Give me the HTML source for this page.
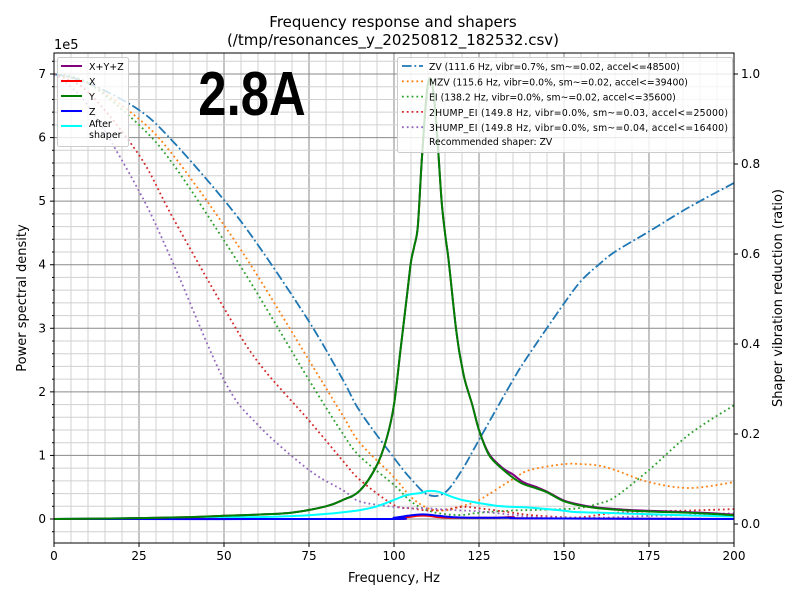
<!DOCTYPE html>
<html><head><meta charset="utf-8"><style>
body{margin:0;background:#fff}
svg{display:block;font-family:"DejaVu Sans","Liberation Sans",sans-serif}
</style></head><body>
<svg id="chart" width="800" height="600" viewBox="0 0 800 600" xmlns="http://www.w3.org/2000/svg">
<rect width="800" height="600" fill="#fff"/>
<g id="grid"></g>
<g id="series"></g>
<rect x="54" y="53" width="680" height="490" fill="none" stroke="#000" stroke-width="1"/>
<g id="axes" font-size="12"></g>
<text x="393" y="27" text-anchor="middle" font-size="15">Frequency response and shapers</text>
<text x="393" y="45" text-anchor="middle" font-size="15">(/tmp/resonances_y_20250812_182532.csv)</text>
<text x="394" y="582" text-anchor="middle" font-size="13">Frequency, Hz</text>
<text transform="translate(26,298) rotate(-90)" text-anchor="middle" font-size="13">Power spectral density</text>
<text transform="translate(782,298) rotate(-90)" text-anchor="middle" font-size="13">Shaper vibration reduction (ratio)</text>
<text x="54" y="49" font-size="13">1e5</text>
<text x="252" y="115" text-anchor="middle" font-size="62" font-weight="bold" font-family="'Liberation Sans Narrow','Liberation Sans',sans-serif" transform="translate(252,0) scale(0.82,1) translate(-252,0)">2.8A</text>
<g id="legend-left"></g>
<g id="legend-right"></g>
</svg>
<script>
// PSD data (units of 1e5)
const psdFreqs = [0,20,40,50,60,70,80,85,90,95,98,100,102,104,105,106,107,108,109,110,111,112,113,114,115,116,117,118,119,120,121,123,125,128,132,135,138,142,145,150,155,160,170,180,190,200];
const psdY =     [0,0.01,0.03,0.05,0.07,0.1,0.2,0.3,0.45,0.85,1.3,1.8,2.7,3.6,4.05,4.3,4.6,5.5,6.3,6.85,6.9,6.5,5.8,5.0,4.5,4.1,3.6,3.1,2.7,2.4,2.15,1.8,1.4,1.0,0.78,0.65,0.55,0.48,0.42,0.28,0.21,0.17,0.13,0.11,0.09,0.06];
const psdSum =   [0,0.01,0.03,0.05,0.07,0.1,0.2,0.3,0.45,0.85,1.3,1.8,2.7,3.6,4.05,4.3,4.6,5.5,6.3,6.85,6.9,6.5,5.8,5.0,4.5,4.1,3.6,3.1,2.7,2.4,2.15,1.8,1.4,1.02,0.8,0.7,0.58,0.5,0.43,0.29,0.22,0.18,0.14,0.12,0.1,0.07];
const shFreqs = [0,20,40,60,72,80,84,90,95,100,104,108,110,113,117,120,123,130,135,140,150,153,160,172,185,200];
const shAfter = [0,0.01,0.02,0.03,0.05,0.08,0.1,0.14,0.2,0.3,0.38,0.41,0.44,0.43,0.35,0.3,0.27,0.21,0.19,0.18,0.13,0.11,0.1,0.08,0.06,0.04];
const xFreqs = [0,95,100,104,107,110,113,117,122,130,135,140,200];
const xVals =  [0,0,0.01,0.03,0.05,0.05,0.03,0.02,0.02,0.02,0.03,0.01,0];
const zVals =  [0,0,0.02,0.05,0.07,0.07,0.05,0.03,0.02,0.02,0.02,0.01,0];
// Shaper responses (ratio)
const ratioFreqs = [0,10,25,35,50,60,75,85,90,100,105,110,115,120,125,135,140,150,155,160,165,175,187,200];
const zv =     [1.0,0.98,0.92,0.85,0.72,0.62,0.45,0.32,0.25,0.147,0.1,0.065,0.07,0.12,0.187,0.32,0.38,0.49,0.54,0.575,0.605,0.65,0.705,0.758];
const mzv =    [1.0,0.98,0.9,0.82,0.664,0.55,0.364,0.24,0.18,0.104,0.06,0.035,0.03,0.04,0.053,0.1,0.12,0.133,0.133,0.13,0.12,0.093,0.08,0.093];
const ei =     [1.0,0.98,0.887,0.8,0.63,0.51,0.32,0.2,0.15,0.087,0.05,0.03,0.022,0.02,0.025,0.03,0.031,0.033,0.036,0.045,0.06,0.12,0.2,0.264];
const hump2 =  [1.0,0.96,0.82,0.68,0.48,0.36,0.23,0.14,0.098,0.042,0.035,0.03,0.032,0.038,0.035,0.025,0.02,0.015,0.015,0.02,0.025,0.028,0.03,0.033];
const hump3 =  [1.0,0.93,0.74,0.58,0.32,0.22,0.12,0.075,0.05,0.038,0.035,0.035,0.032,0.03,0.028,0.02,0.016,0.014,0.013,0.014,0.015,0.018,0.02,0.024];
const xTicks = [0,25,50,75,100,125,150,175,200];
const yTicks = [0,1,2,3,4,5,6,7];
const rTicks = [0,0.2,0.4,0.6,0.8,1.0];
const legendPsd = ["X+Y+Z","X","Y","Z","After shaper"];
const legendShaper = ["ZV (111.6 Hz, vibr=0.7%, sm~=0.02, accel<=48500)","MZV (115.6 Hz, vibr=0.0%, sm~=0.02, accel<=39400)","EI (138.2 Hz, vibr=0.0%, sm~=0.02, accel<=35600)","2HUMP_EI (149.8 Hz, vibr=0.0%, sm~=0.03, accel<=25000)","3HUMP_EI (149.8 Hz, vibr=0.0%, sm~=0.04, accel<=16400)"];

const NS="http://www.w3.org/2000/svg";
const X0=54,X1=734,YT=53,YB=543;
const xs=f=>X0+f*(X1-X0)/200;
const yl=v=>519-v*63.57;
const yr=r=>524-r*450;
function el(t,a,p){const e=document.createElementNS(NS,t);for(const k in a)e.setAttribute(k,a[k]);p.appendChild(e);return e;}
const grid=document.getElementById('grid'),ser=document.getElementById('series'),axes=document.getElementById('axes');
for(let f=0;f<=200;f+=5){const major=f%25===0;const l=el('line',{x1:xs(f),x2:xs(f),y1:YT,y2:YB,stroke:major?'#8a8a8a':'#d0d0d0','stroke-width':1},grid);

}
for(let i=-1;i<=36;i++){const v=i*0.2;const y=yl(v);if(y<YT||y>YB)continue;const major=i%5===0;const l=el('line',{x1:X0,x2:X1,y1:y,y2:y,stroke:major?'#8a8a8a':'#d0d0d0','stroke-width':1},grid);

}
xTicks.forEach(t=>{el('line',{x1:xs(t),x2:xs(t),y1:YB,y2:YB+4,stroke:'#000'},axes);const tx=el('text',{x:xs(t),y:YB+17,'text-anchor':'middle'},axes);tx.textContent=t;

});
yTicks.forEach(t=>{el('line',{x1:X0-4,x2:X0,y1:yl(t),y2:yl(t),stroke:'#000'},axes);const tx=el('text',{x:X0-8,y:yl(t)+4,'text-anchor':'end'},axes);tx.textContent=t;

});
for(let i=-1;i<=36;i++){const y=yl(i*0.2);if(y<YT||y>YB||i%5===0)continue;el('line',{x1:X0-2,x2:X0,y1:y,y2:y,stroke:'#000'},axes);}
rTicks.forEach(t=>{el('line',{x1:X1,x2:X1+4,y1:yr(t),y2:yr(t),stroke:'#000'},axes);const tx=el('text',{x:X1+7,y:yr(t)+4},axes);tx.textContent=t.toFixed(1);

});
function smoothPath(P){let d='M'+P[0][0].toFixed(1)+','+P[0][1].toFixed(1);
for(let i=0;i<P.length-1;i++){const p0=P[i-1]||P[i],p1=P[i],p2=P[i+1],p3=P[i+2]||P[i+1];
const c1=[p1[0]+(p2[0]-p0[0])/6,p1[1]+(p2[1]-p0[1])/6],c2=[p2[0]-(p3[0]-p1[0])/6,p2[1]-(p3[1]-p1[1])/6];
d+=' C'+c1.map(v=>v.toFixed(1))+' '+c2.map(v=>v.toFixed(1))+' '+p2.map(v=>v.toFixed(1));}
return d;}
function line(fr,vals,sc,color,w,dash,name){const P=fr.map((f,i)=>[xs(f),sc(vals[i])]);
const p=el('path',{d:smoothPath(P),fill:'none',stroke:color,'stroke-width':w,'stroke-linejoin':'round','stroke-dasharray':dash||'none'},ser);

}
const DOT='1.8,3',DD='9.6,2.8,1.8,2.8';
line(ratioFreqs,zv,yr,'#1f77b4',1.8,DD,'zv-shaper-line');
line(ratioFreqs,mzv,yr,'#ff7f0e',1.8,DOT,'mzv-shaper-line');
line(ratioFreqs,ei,yr,'#2ca02c',1.8,DOT,'ei-shaper-line');
line(ratioFreqs,hump2,yr,'#d62728',1.8,DOT,'2hump-ei-shaper-line');
line(ratioFreqs,hump3,yr,'#9467bd',1.8,DOT,'3hump-ei-shaper-line');
line(shFreqs,shAfter,yl,'cyan',2,null,'after-shaper-line');
line(xFreqs,xVals,yl,'red',2,null,'x-psd-line');
line(xFreqs,zVals,yl,'blue',2,null,'z-psd-line');
line(psdFreqs,psdSum,yl,'purple',2,null,'xyz-psd-line');
line(psdFreqs,psdY,yl,'green',2,null,'y-psd-line');
// legends
const lg=document.getElementById('legend-left');
el('rect',{x:57.5,y:57.5,width:71,height:89,rx:2,fill:'#fff','fill-opacity':0.8,stroke:'#ccc'},lg);
const cols=['purple','red','green','blue','cyan'];
const ly=[66,81,96,111,126];
legendPsd.forEach((s,i)=>{el('line',{x1:61,x2:82,y1:ly[i],y2:ly[i],stroke:cols[i],'stroke-width':2},lg);
if(i<4){const t=el('text',{x:89,y:ly[i]+4,'font-size':9.5},lg);t.textContent=s;}
else{const t=el('text',{x:89,y:ly[i]+1,'font-size':9.5},lg);t.textContent='After';const t2=el('text',{x:89,y:ly[i]+12,'font-size':9.5},lg);t2.textContent='shaper';}});
const lr=document.getElementById('legend-right');
el('rect',{x:397.5,y:57.5,width:335,height:95,rx:2,fill:'#fff','fill-opacity':0.8,stroke:'#ccc'},lr);
const scol=['#1f77b4','#ff7f0e','#2ca02c','#d62728','#9467bd'];
legendShaper.forEach((s,i)=>{const y=66+i*15.3;el('line',{x1:402,x2:423,y1:y,y2:y,stroke:scol[i],'stroke-width':1.8,'stroke-dasharray':i===0?DD:DOT},lr);
const t=el('text',{x:429,y:y+4,'font-size':9.3,textLength:i>=3?300:null},lr);t.textContent=s;
if(i>=3)t.setAttribute('textLength','299');else t.removeAttribute('textLength');

});
const rec=el('text',{x:429,y:145,'font-size':9.3},lr);rec.textContent='Recommended shaper: ZV';


</script>
</body></html>
